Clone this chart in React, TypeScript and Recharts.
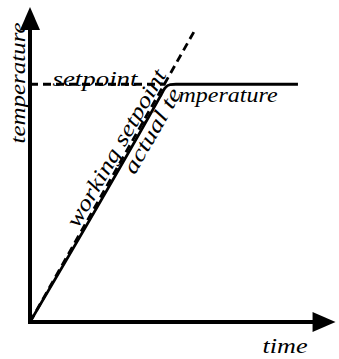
import { LineChart, Line, XAxis, YAxis, ReferenceLine, ReferenceDot } from "recharts";

// time / temperature in arbitrary units, 0..100 on both axes
const setpointTime = [0, 44];
const setpointTemp = [75, 75];

const workingTime = [0, 53.2];
const workingTemp = [0, 91.5];

const actualTime = [0, 42.2, 43.8, 45.5, 47.4, 87];
const actualTemp = [0, 71, 73.8, 74.9, 75, 75];

const toPoints = (xs: number[], ys: number[]) =>
	xs.map((t, i) => ({ time: t, temp: ys[i] }));

const setpointData = toPoints(setpointTime, setpointTemp);
const workingData = toPoints(workingTime, workingTemp);
const actualData = toPoints(actualTime, actualTemp);

const font = {
	fontFamily: "'Liberation Serif', serif",
	fontStyle: "italic",
	fontSize: 22,
	fill: "#000",
};

function ArrowAxis(props: any) {
	const { x1, y1, x2, y2 } = props;
	const len = Math.hypot(x2 - x1, y2 - y1);
	const ux = (x2 - x1) / len;
	const uy = (y2 - y1) / len;
	const head = 23;
	const half = 10;
	const bx = x2 - ux * head;
	const by = y2 - uy * head;
	const px = -uy * half;
	const py = ux * half;
	return (
		<g>
			<line
				x1={x1}
				y1={y1}
				x2={bx + ux * 2}
				y2={by + uy * 2}
				stroke="#000"
				strokeWidth={4}
				strokeLinecap="square"
			/>
			<polygon
				points={`${x2},${y2} ${bx + px},${by + py} ${bx - px},${by - py}`}
				fill="#000"
			/>
		</g>
	);
}

function label(text: string, angle: number, length: number) {
	return (props: any) => {
		const { cx, cy } = props;
		return (
			<text
				x={cx}
				y={cy}
				transform={angle ? `rotate(${angle} ${cx} ${cy})` : undefined}
				textAnchor="middle"
				dominantBaseline="central"
				textLength={length}
				lengthAdjust="spacingAndGlyphs"
				{...font}
			>
				{text}
			</text>
		);
	};
}

export default function App() {
	return (
		<div
			style={{
				position: "absolute",
				left: 0,
				top: 0,
				width: 339,
				height: 359,
				background: "#fff",
			}}
		>
			<LineChart
				width={339}
				height={359}
				margin={{ top: 5, right: 1, bottom: 37, left: 30 }}
			>
				<XAxis type="number" dataKey="time" domain={[0, 100]} hide />
				<YAxis type="number" dataKey="temp" domain={[0, 100]} hide />

				<ReferenceLine
					segment={[
						{ x: 0, y: 0 },
						{ x: 99.2, y: 0 },
					]}
					ifOverflow="visible"
					shape={ArrowAxis}
				/>
				<ReferenceLine
					segment={[
						{ x: 0, y: 0 },
						{ x: 0, y: 99.4 },
					]}
					ifOverflow="visible"
					shape={ArrowAxis}
				/>

				<Line
					data={setpointData}
					dataKey="temp"
					type="linear"
					stroke="#000"
					strokeWidth={2.8}
					strokeDasharray="8 5"
					dot={false}
					isAnimationActive={false}
				/>
				<Line
					data={workingData}
					dataKey="temp"
					type="linear"
					stroke="#000"
					strokeWidth={2.8}
					strokeDasharray="8 5"
					dot={false}
					isAnimationActive={false}
				/>
				<Line
					data={actualData}
					dataKey="temp"
					type="monotone"
					stroke="#000"
					strokeWidth={2.8}
					dot={false}
					isAnimationActive={false}
				/>

				<ReferenceDot x={-4.2} y={75.4} ifOverflow="visible" shape={label("temperature", -90, 121)} />
				<ReferenceDot x={82.8} y={-7.3} ifOverflow="visible" shape={label("time", 0, 45)} />
				<ReferenceDot x={21.1} y={76.7} ifOverflow="visible" shape={label("setpoint", 0, 85)} />
				<ReferenceDot x={27.9} y={54.9} ifOverflow="visible" shape={label("working  setpoint", -60, 178)} />
				<ReferenceDot x={39.6} y={60.4} ifOverflow="visible" shape={label("actual te", -60, 95)} />
				<ReferenceDot x={64.3} y={71.9} ifOverflow="visible" shape={label("mperature", 0, 99)} />
			</LineChart>
		</div>
	);
}
